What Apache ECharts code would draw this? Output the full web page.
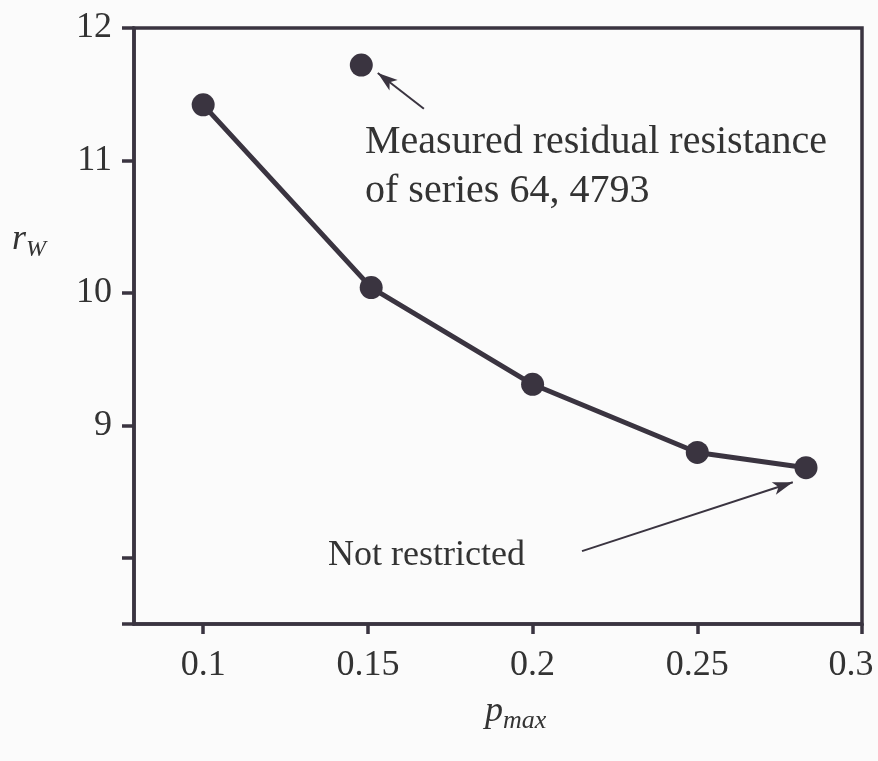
<!DOCTYPE html>
<html>
<head>
<meta charset="utf-8">
<script src="https://cdn.jsdelivr.net/npm/echarts@6/dist/echarts.min.js"></script>
<style>
html,body{margin:0;padding:0;background:#fbfbfb;}
#c{width:878px;height:761px;}
</style>
</head>
<body>
<div id="c"></div>
<script>
// data
var pMax = [0.1, 0.151, 0.2, 0.25, 0.283];
var rW = [11.42, 10.04, 9.31, 8.795, 8.68];
var measuredP = [0.148];
var measuredR = [11.72];
var xTicks = [0.1, 0.15, 0.2, 0.25, 0.3];
var yTicks = [7.5, 8, 9, 10, 11, 12];
var yLabels = [9, 10, 11, 12];
var arrow1 = [[0.167, 11.39], [0.153, 11.66]];
var arrow2 = [[0.215, 8.05], [0.279, 8.57]];

var ink = '#3a3440';
var txt = '#333';
var font = '"Liberation Serif", "Times New Roman", serif';

var chart = echarts.init(document.getElementById('c'));
var lineData = pMax.map(function (p, i) { return [p, rW[i]]; });
var measData = measuredP.map(function (p, i) { return [p, measuredR[i]]; });

chart.setOption({
  animation: false,
  backgroundColor: '#fbfbfb',
  grid: {left: 134, right: 16, top: 28, bottom: 137, outerBoundsMode: 'none', containLabel: false, show: true, borderColor: ink, borderWidth: 3.5, backgroundColor: 'transparent'},
  xAxis: {
    type: 'value', min: 0.079, max: 0.3,
    axisLine: {show: true, lineStyle: {color: ink, width: 3.5}},
    axisTick: {show: true, length: 10, inside: false, customValues: xTicks, lineStyle: {color: ink, width: 3.5}},
    axisLabel: {
      customValues: xTicks, color: txt, fontFamily: font, fontSize: 36, margin: 24,
      formatter: function (v) { return v >= 0.3 ? '{e|' + v + '}' : String(v); },
      rich: {e: {fontFamily: font, fontSize: 36, color: txt, padding: [0, 22, 0, 0]}}
    },
    splitLine: {show: false}
  },
  yAxis: {
    type: 'value', min: 7.5, max: 12,
    axisLine: {show: true, lineStyle: {color: ink, width: 3.5}},
    axisTick: {show: true, length: 12, inside: false, customValues: yTicks, lineStyle: {color: ink, width: 3.5}},
    axisLabel: {customValues: yLabels, color: txt, fontFamily: font, fontSize: 36, margin: 22},
    splitLine: {show: false}
  },
  graphic: [
    {type: 'text', left: 365, top: 118, style: {text: 'Measured residual resistance\nof series 64, 4793', fill: txt, font: '40px ' + font, lineHeight: 49}},
    {type: 'text', left: 328, top: 538, style: {text: 'Not restricted', fill: txt, font: '36px ' + font}},
    {type: 'text', left: 12, top: 222, style: {rich: {r: {fontFamily: font, fontStyle: 'italic', fontSize: 36, fill: txt, lineHeight: 44, verticalAlign: 'middle'}, w: {fontFamily: font, fontStyle: 'italic', fontSize: 24, fill: txt, lineHeight: 44, verticalAlign: 'bottom'}}, text: '{r|r}{w|W}'}},
    {type: 'text', left: 485, top: 694, style: {rich: {p: {fontFamily: font, fontStyle: 'italic', fontSize: 36, fill: txt, lineHeight: 44, verticalAlign: 'middle'}, m: {fontFamily: font, fontStyle: 'italic', fontSize: 26, fill: txt, lineHeight: 44, verticalAlign: 'bottom'}}, text: '{p|p}{m|max}'}}
  ],
  series: [
    {
      type: 'line', data: lineData, symbol: 'circle', symbolSize: 23, showAllSymbol: true,
      lineStyle: {color: ink, width: 5}, itemStyle: {color: ink},
      markLine: {
        silent: true, symbol: ['none', 'arrow'], symbolSize: [10, 20],
        lineStyle: {color: ink, width: 2, type: 'solid'}, label: {show: false},
        emphasis: {disabled: true},
        data: [
          [{coord: arrow1[0]}, {coord: arrow1[1]}],
          [{coord: arrow2[0]}, {coord: arrow2[1]}]
        ]
      }
    },
    {
      type: 'scatter', data: measData, symbol: 'circle', symbolSize: 23,
      itemStyle: {color: ink, opacity: 1}
    }
  ]
});
</script>
</body>
</html>
